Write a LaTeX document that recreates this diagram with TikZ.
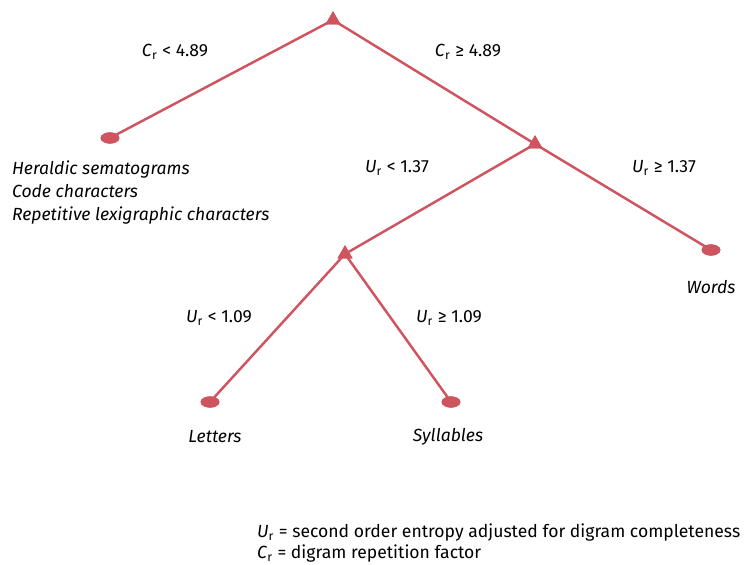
\documentclass[tikz,border=0pt]{standalone}
\usepackage{fontspec}
\setmainfont{Fira Sans}
\usetikzlibrary{shapes.geometric}
\definecolor{treered}{RGB}{206,84,96}
\newcommand{\Cr}{\textit{C}\textsubscript{r}}
\newcommand{\Ur}{\textit{U}\textsubscript{r}}

\begin{document}
\begin{tikzpicture}[x=0.02cm,y=-0.02cm,
 split/.style={regular polygon,regular polygon sides=3,fill=treered,draw=treered,inner sep=0pt,minimum size=3.2mm},
 leaf/.style={ellipse,fill=treered,draw=treered,inner sep=0pt,minimum width=3.6mm,minimum height=2.1mm},
 edge/.style={draw=treered,line width=1.4pt},
 lab/.style={font=\normalsize,inner sep=1pt},
 outcome/.style={font=\normalsize\itshape,inner sep=1pt}]
\useasboundingbox (0,0) rectangle (746,564);
% splits and leaves
\node[split] (root) at (333,20) {};
\node[leaf] (glyph) at (110,138) {};
\node[split] (upper) at (535,144) {};
\node[leaf] (words) at (711,250) {};
\node[split] (lower) at (345,254) {};
\node[leaf] (letters) at (210,402) {};
\node[leaf] (syll) at (451,402) {};
\draw[edge] (root.center) -- (glyph.center);
\draw[edge] (root.center) -- (upper.center);
\draw[edge] (upper.center) -- (words.center);
\draw[edge] (upper.center) -- (lower.center);
\draw[edge] (lower.center) -- (letters.center);
\draw[edge] (lower.center) -- (syll.center);
% redraw tips on top
\foreach \n in {root,upper,lower} \node[split] at (\n) {};
\foreach \n in {glyph,words,letters,syll} \node[leaf] at (\n) {};
% split labels
\node[lab] (c1) at (175,52) {\Cr\ < 4.89};
\node[lab] (c2) at (468,52) {\Cr\ ≥ 4.89};
\node[lab] (u1) at (397,168) {\Ur\ < 1.37};
\node[lab] (u2) at (664,168) {\Ur\ ≥ 1.37};
\node[lab] (u3) at (219,318) {\Ur\ < 1.09};
\node[lab] (u4) at (449,318) {\Ur\ ≥ 1.09};
% leaf texts
\node[outcome,anchor=north west,align=left] (glyphtxt) at (10,159) {Heraldic sematograms\\[1pt]Code characters\\[1pt]Repetitive lexigraphic characters};
\node[outcome] (wordstxt) at (711,287) {Words};
\node[outcome] (letterstxt) at (215,437) {Letters};
\node[outcome] (sylltxt) at (448,437) {Syllables};
% legend
\node[lab,anchor=north west,align=left] (legend) at (255,522) {\Ur\ = second order entropy adjusted for digram completeness\\\Cr\ = digram repetition factor};
\end{tikzpicture}
\end{document}
